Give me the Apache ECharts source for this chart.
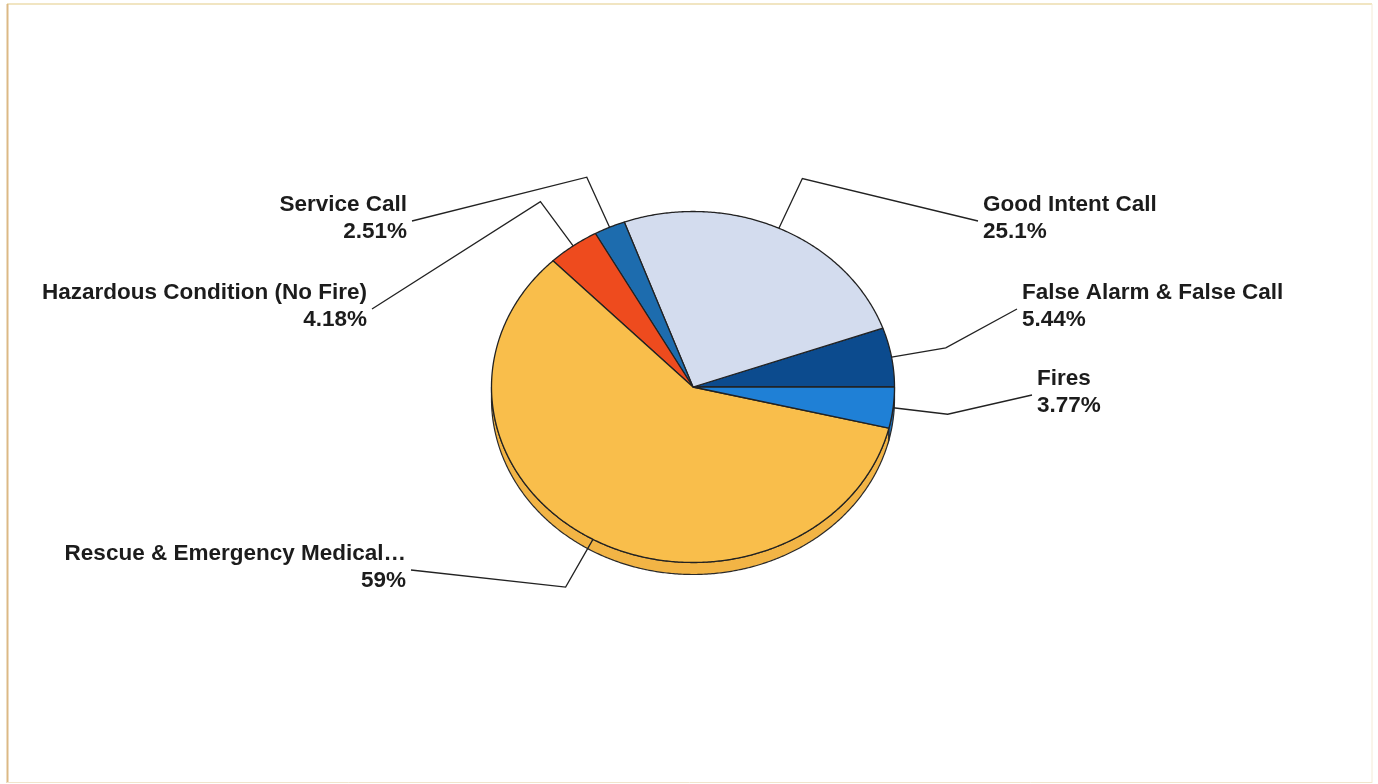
<!DOCTYPE html>
<html>
<head>
<meta charset="utf-8">
<script src="https://cdn.jsdelivr.net/npm/echarts@6/dist/echarts.min.js"></script>
<style>
  html, body { margin: 0; padding: 0; background: #ffffff; }
  #chart { width: 1378px; height: 784px; }
</style>
</head>
<body>
<div id="chart"></div>
<script>
// Incident types, counter-clockwise from 3 o'clock
const categories = [
  'False Alarm & False Call',
  'Good Intent Call',
  'Service Call',
  'Hazardous Condition (No Fire)',
  'Rescue & Emergency Medical\u2026',
  'Fires'
];
// Share of incidents, percent
const shares = [5.44, 25.1, 2.51, 4.18, 59, 3.77];

// Slice fills and the slightly darker wall under each slice
const sliceColors = ['#0c4b8e', '#d3dcee', '#1d6cae', '#ee4b1e', '#f9be4b', '#1f80d6'];
const sideColors  = ['#0a407a', '#b9c4dc', '#185d97', '#d4421a', '#f2b445', '#1a70bd'];

// Where each two-line label sits: [x, y of block centre, alignment]
const labelAnchors = [
  [1022, 306, 'left'],
  [983, 218, 'left'],
  [407, 218, 'right'],
  [367, 306, 'right'],
  [406, 567, 'right'],
  [1037, 392, 'left']
];

// Tilted-disc geometry
const CX = 693, CY = 387, RX = 201.5, RY = 175.5, DEPTH = 12, ELBOW = 55;

const total = shares.reduce((a, b) => a + b, 0);
const starts = [];
shares.reduce((acc, v) => { starts.push(acc); return acc + v; }, 0);

function pt(t, dy) {
  return [CX + RX * Math.cos(t), CY - RY * Math.sin(t) + (dy || 0)];
}
function arc(t0, t1, dy) {
  const n = Math.max(2, Math.ceil(Math.abs(t1 - t0) / (Math.PI / 360)));
  const out = [];
  for (let k = 0; k <= n; k++) out.push(pt(t0 + (t1 - t0) * k / n, dy));
  return out;
}

function renderItem(params, api) {
  const i = params.dataIndex;
  const v = api.value(0);
  const t0 = starts[i] / total * 2 * Math.PI;
  const t1 = t0 + v / total * 2 * Math.PI;
  const children = [];

  // visible wall along the front half of the disc
  const a = Math.max(t0, Math.PI), b = Math.min(t1, 2 * Math.PI);
  if (b > a) {
    children.push({
      type: 'polygon', z2: 1,
      shape: { points: arc(a, b, 0).concat(arc(b, a, DEPTH)) },
      style: { fill: sideColors[i], stroke: '#2a2a2a', lineWidth: 1.2 }
    });
  }

  // top face
  children.push({
    type: 'polygon', z2: 2,
    shape: { points: [[CX, CY]].concat(arc(t0, t1, 0)) },
    style: { fill: sliceColors[i], stroke: '#222222', lineWidth: 1.3, lineJoin: 'round' }
  });

  // leader line: from slice edge, out radially, then across to the label
  const tm = (t0 + t1) / 2;
  const s = pt(tm, 0);
  const e = [s[0] + ELBOW * Math.cos(tm), s[1] - ELBOW * Math.sin(tm)];
  const anc = labelAnchors[i];
  const endX = anc[2] === 'left' ? anc[0] - 5 : anc[0] + 5;
  children.push({
    type: 'polyline', z2: 3,
    shape: { points: [s, e, [endX, anc[1] + 3]] },
    style: { stroke: '#222222', lineWidth: 1.3, fill: null }
  });

  children.push({
    type: 'text', z2: 4,
    style: {
      text: categories[i] + '\n' + v + '%',
      x: anc[0], y: anc[1],
      align: anc[2], verticalAlign: 'middle',
      fill: '#1c1c1c',
      fontSize: 22.5, fontWeight: 'bold',
      fontFamily: '"Liberation Sans", Arial, sans-serif',
      lineHeight: 27
    }
  });

  return { type: 'group', children: children };
}

const chart = echarts.init(document.getElementById('chart'), null, { renderer: 'canvas' });
chart.setOption({
  backgroundColor: '#ffffff',
  animation: false,
  graphic: [
    { type: 'line', shape: { x1: 7, y1: 4, x2: 1372, y2: 4 }, style: { stroke: '#ecdcae', lineWidth: 1.5 } },
    { type: 'line', shape: { x1: 7.5, y1: 4, x2: 7.5, y2: 783 }, style: { stroke: '#dcb985', lineWidth: 2 } },
    { type: 'line', shape: { x1: 1372, y1: 4, x2: 1372, y2: 783 }, style: { stroke: '#f3ead6', lineWidth: 1 } },
    { type: 'line', shape: { x1: 7, y1: 782.5, x2: 1372, y2: 782.5 }, style: { stroke: '#f1e5cc', lineWidth: 1 } }
  ],
  series: [{
    type: 'custom',
    coordinateSystem: 'none',
    silent: true,
    renderItem: renderItem,
    data: shares.map(v => [v])
  }]
});
</script>
</body>
</html>
